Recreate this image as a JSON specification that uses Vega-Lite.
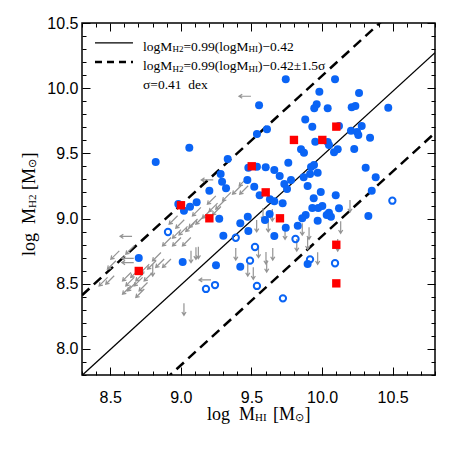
{
  "$schema": "https://vega.github.io/schema/vega-lite/v6.json",
  "width": 353,
  "height": 352,
  "autosize": {"type": "none"},
  "padding": {"left": 82, "top": 23, "right": 23, "bottom": 83},
  "background": "white",
  "config": {
    "view": {"stroke": "black", "strokeWidth": 1.5},
    "axis": {"domain": false, "grid": false, "tickColor": "black", "tickWidth": 1, "labelFont": "Liberation Sans", "labelFontSize": 16, "labelColor": "black", "labelFlush": false, "labelOverlap": false, "title": null},
    "text": {"font": "Liberation Serif", "color": "black"}
  },
  "datasets": {
    "one": [{}],
    "lines": [
      {"line": "fit", "x": 8.3, "y": 7.797}, {"line": "fit", "x": 10.8, "y": 10.272},
      {"line": "upper", "x": 8.3, "y": 8.412}, {"line": "upper", "x": 10.8, "y": 10.887},
      {"line": "lower", "x": 8.3, "y": 7.182}, {"line": "lower", "x": 10.8, "y": 9.657}
    ],
    "pts": [
      {"t":"filled","x":9.743,"y":10.068},{"t":"filled","x":10.092,"y":10.068},{"t":"filled","x":9.981,"y":9.973},{"t":"filled","x":10.262,"y":9.963},{"t":"filled","x":9.554,"y":9.869},{"t":"filled","x":9.962,"y":9.876},{"t":"filled","x":9.945,"y":9.846},{"t":"filled","x":10.040,"y":9.846},{"t":"filled","x":10.210,"y":9.853},{"t":"filled","x":10.236,"y":9.863},{"t":"filled","x":10.469,"y":9.850},{"t":"filled","x":9.881,"y":9.760},{"t":"filled","x":8.822,"y":9.434},{"t":"filled","x":9.060,"y":9.543},{"t":"filled","x":9.332,"y":9.457},{"t":"filled","x":9.282,"y":9.342},{"t":"filled","x":9.292,"y":9.283},{"t":"filled","x":9.320,"y":9.232},{"t":"filled","x":9.202,"y":9.214},{"t":"filled","x":9.478,"y":9.390},{"t":"filled","x":9.471,"y":9.296},{"t":"filled","x":9.520,"y":9.244},{"t":"filled","x":8.982,"y":9.112},{"t":"filled","x":9.022,"y":9.060},{"t":"filled","x":9.065,"y":9.091},{"t":"filled","x":9.112,"y":9.125},{"t":"filled","x":9.272,"y":8.999},{"t":"filled","x":9.421,"y":8.964},{"t":"filled","x":9.474,"y":9.014},{"t":"filled","x":9.478,"y":8.905},{"t":"filled","x":9.301,"y":8.868},{"t":"filled","x":9.539,"y":9.649},{"t":"filled","x":9.610,"y":9.685},{"t":"filled","x":9.931,"y":9.705},{"t":"filled","x":10.120,"y":9.710},{"t":"filled","x":10.281,"y":9.710},{"t":"filled","x":10.205,"y":9.674},{"t":"filled","x":10.248,"y":9.664},{"t":"filled","x":10.257,"y":9.641},{"t":"filled","x":9.952,"y":9.590},{"t":"filled","x":10.040,"y":9.587},{"t":"filled","x":10.049,"y":9.564},{"t":"filled","x":10.340,"y":9.620},{"t":"filled","x":9.851,"y":9.531},{"t":"filled","x":9.872,"y":9.505},{"t":"filled","x":10.085,"y":9.508},{"t":"filled","x":10.111,"y":9.531},{"t":"filled","x":10.228,"y":9.534},{"t":"filled","x":9.761,"y":9.428},{"t":"filled","x":9.539,"y":9.398},{"t":"filled","x":9.601,"y":9.393},{"t":"filled","x":9.662,"y":9.372},{"t":"filled","x":9.922,"y":9.395},{"t":"filled","x":9.943,"y":9.411},{"t":"filled","x":9.915,"y":9.342},{"t":"filled","x":9.969,"y":9.352},{"t":"filled","x":10.309,"y":9.390},{"t":"filled","x":9.700,"y":9.326},{"t":"filled","x":9.780,"y":9.296},{"t":"filled","x":9.870,"y":9.316},{"t":"filled","x":10.380,"y":9.316},{"t":"filled","x":9.733,"y":9.265},{"t":"filled","x":9.752,"y":9.227},{"t":"filled","x":9.898,"y":9.250},{"t":"filled","x":10.352,"y":9.214},{"t":"filled","x":9.991,"y":9.204},{"t":"filled","x":10.097,"y":9.178},{"t":"filled","x":9.558,"y":9.178},{"t":"filled","x":9.631,"y":9.148},{"t":"filled","x":9.662,"y":9.132},{"t":"filled","x":9.721,"y":9.117},{"t":"filled","x":9.941,"y":9.155},{"t":"filled","x":9.931,"y":9.081},{"t":"filled","x":9.973,"y":9.081},{"t":"filled","x":10.002,"y":9.096},{"t":"filled","x":10.049,"y":9.045},{"t":"filled","x":10.063,"y":9.014},{"t":"filled","x":10.033,"y":9.027},{"t":"filled","x":10.120,"y":9.079},{"t":"filled","x":9.884,"y":9.027},{"t":"filled","x":9.860,"y":9.002},{"t":"filled","x":9.969,"y":8.984},{"t":"filled","x":10.328,"y":9.020},{"t":"filled","x":9.629,"y":9.035},{"t":"filled","x":9.596,"y":8.989},{"t":"filled","x":9.743,"y":8.930},{"t":"filled","x":9.828,"y":8.945},{"t":"filled","x":9.662,"y":8.866},{"t":"filled","x":8.702,"y":8.697},{"t":"filled","x":9.013,"y":8.667},{"t":"filled","x":9.249,"y":8.641},{"t":"filled","x":9.421,"y":8.631},{"t":"filled","x":9.898,"y":8.651},
      {"t":"open","x":8.909,"y":8.897},{"t":"open","x":9.389,"y":8.853},{"t":"open","x":9.812,"y":8.843},{"t":"open","x":10.498,"y":9.137},{"t":"open","x":9.490,"y":8.677},{"t":"open","x":9.178,"y":8.460},{"t":"open","x":9.242,"y":8.490},{"t":"open","x":9.525,"y":8.782},{"t":"open","x":9.539,"y":8.483},{"t":"open","x":9.915,"y":8.687},{"t":"open","x":10.092,"y":8.657},{"t":"open","x":9.723,"y":8.388},
      {"t":"red","x":9.502,"y":9.401},{"t":"red","x":9.001,"y":9.102},{"t":"red","x":9.202,"y":9.002},{"t":"red","x":10.101,"y":9.705},{"t":"red","x":9.801,"y":9.603},{"t":"red","x":10.002,"y":9.603},{"t":"red","x":9.601,"y":9.201},{"t":"red","x":9.702,"y":9.002},{"t":"red","x":8.702,"y":8.598},{"t":"red","x":10.101,"y":8.799},{"t":"red","x":10.101,"y":8.503},
      {"t":"down","x":10.198,"y":9.096},{"t":"down","x":9.537,"y":8.943},{"t":"down","x":9.619,"y":8.943},{"t":"down","x":9.738,"y":8.887},{"t":"down","x":9.860,"y":8.918},{"t":"down","x":9.908,"y":8.887},{"t":"down","x":10.132,"y":8.933},{"t":"down","x":9.582,"y":9.035},{"t":"down","x":9.648,"y":9.027},{"t":"down","x":9.550,"y":8.746},{"t":"down","x":9.603,"y":8.697},{"t":"down","x":9.608,"y":8.636},{"t":"down","x":9.651,"y":8.728},{"t":"down","x":9.821,"y":8.797},{"t":"down","x":9.898,"y":8.810},{"t":"down","x":9.969,"y":8.695},{"t":"down","x":10.111,"y":8.797},{"t":"down","x":9.389,"y":8.728},{"t":"down","x":9.474,"y":8.605},{"t":"down","x":9.513,"y":8.580},{"t":"down","x":9.072,"y":8.707},{"t":"down","x":9.107,"y":8.733},{"t":"down","x":9.124,"y":8.738},{"t":"down","x":8.801,"y":8.605},{"t":"down","x":9.022,"y":8.304},
      {"t":"left","x":9.454,"y":9.938},{"t":"left","x":9.187,"y":9.296},{"t":"left","x":8.612,"y":8.864},{"t":"left","x":9.171,"y":8.529},{"t":"left","x":8.624,"y":8.695},{"t":"left","x":8.624,"y":8.662},
      {"t":"diag","x":9.443,"y":9.283},{"t":"diag","x":9.396,"y":9.219},{"t":"diag","x":9.447,"y":9.219},{"t":"diag","x":9.325,"y":9.168},{"t":"diag","x":9.218,"y":9.142},{"t":"diag","x":9.277,"y":9.104},{"t":"diag","x":9.230,"y":9.086},{"t":"diag","x":9.254,"y":9.060},{"t":"diag","x":9.112,"y":9.053},{"t":"diag","x":9.183,"y":9.035},{"t":"diag","x":9.136,"y":8.989},{"t":"diag","x":9.088,"y":8.964},{"t":"diag","x":9.065,"y":8.933},{"t":"diag","x":8.994,"y":8.958},{"t":"diag","x":9.017,"y":8.907},{"t":"diag","x":8.971,"y":8.882},{"t":"diag","x":8.947,"y":8.989},{"t":"diag","x":8.900,"y":8.822},{"t":"diag","x":8.971,"y":8.822},{"t":"diag","x":9.041,"y":8.822},{"t":"diag","x":8.534,"y":8.720},{"t":"diag","x":8.640,"y":8.759},{"t":"diag","x":8.510,"y":8.644},{"t":"diag","x":8.829,"y":8.707},{"t":"diag","x":8.852,"y":8.657},{"t":"diag","x":8.900,"y":8.657},{"t":"diag","x":8.794,"y":8.644},{"t":"diag","x":8.746,"y":8.618},{"t":"diag","x":8.675,"y":8.580},{"t":"diag","x":8.617,"y":8.554},{"t":"diag","x":8.711,"y":8.554},{"t":"diag","x":8.770,"y":8.554},{"t":"diag","x":8.451,"y":8.516},{"t":"diag","x":8.498,"y":8.529},{"t":"diag","x":8.640,"y":8.516},{"t":"diag","x":8.699,"y":8.516},{"t":"diag","x":8.617,"y":8.452},{"t":"diag","x":8.652,"y":8.477},{"t":"diag","x":8.734,"y":8.477},{"t":"diag","x":8.711,"y":8.427}
    ]
  },
  "resolve": {"axis": {"x": "independent", "y": "independent"}},
  "layer": [
    {
      "data": {"name": "lines"},
      "transform": [{"filter": "datum.line === 'fit'"}],
      "mark": {"type": "line", "color": "black", "strokeWidth": 1.3, "clip": true},
      "encoding": {
        "x": {"field": "x", "type": "quantitative", "scale": {"domain": [8.3, 10.8], "nice": false, "zero": false},
          "axis": {"orient": "bottom", "values": [8.3,8.4,8.5,8.6,8.7,8.8,8.9,9.0,9.1,9.2,9.3,9.4,9.5,9.6,9.7,9.8,9.9,10.0,10.1,10.2,10.3,10.4,10.5,10.6,10.7,10.8],
            "labelExpr": "abs(datum.value*2 - round(datum.value*2)) < 1e-6 ? format(datum.value, '.1f') : ''",
            "tickSize": {"condition": {"test": "abs(datum.value*2 - round(datum.value*2)) < 1e-6", "value": -8}, "value": -4},
            "labelPadding": 22}},
        "y": {"field": "y", "type": "quantitative", "scale": {"domain": [7.8, 10.5], "nice": false, "zero": false},
          "axis": {"orient": "left", "values": [7.8,7.9,8.0,8.1,8.2,8.3,8.4,8.5,8.6,8.7,8.8,8.9,9.0,9.1,9.2,9.3,9.4,9.5,9.6,9.7,9.8,9.9,10.0,10.1,10.2,10.3,10.4,10.5],
            "labelExpr": "abs(datum.value*2 - round(datum.value*2)) < 1e-6 ? format(datum.value, '.1f') : ''",
            "tickSize": {"condition": {"test": "abs(datum.value*2 - round(datum.value*2)) < 1e-6", "value": -8}, "value": -4},
            "labelPadding": 12}}
      }
    },
    {
      "data": {"name": "lines"},
      "transform": [{"filter": "datum.line !== 'fit'"}],
      "mark": {"type": "line", "color": "black", "strokeWidth": 2.5, "strokeDash": [10, 6], "clip": true},
      "encoding": {
        "detail": {"field": "line"},
        "x": {"field": "x", "type": "quantitative", "scale": {"domain": [8.3, 10.8], "nice": false, "zero": false},
          "axis": {"orient": "top", "labels": false, "values": [8.3,8.4,8.5,8.6,8.7,8.8,8.9,9.0,9.1,9.2,9.3,9.4,9.5,9.6,9.7,9.8,9.9,10.0,10.1,10.2,10.3,10.4,10.5,10.6,10.7,10.8],
            "tickSize": {"condition": {"test": "abs(datum.value*2 - round(datum.value*2)) < 1e-6", "value": -8}, "value": -4}}},
        "y": {"field": "y", "type": "quantitative", "scale": {"domain": [7.8, 10.5], "nice": false, "zero": false},
          "axis": {"orient": "right", "labels": false, "values": [7.8,7.9,8.0,8.1,8.2,8.3,8.4,8.5,8.6,8.7,8.8,8.9,9.0,9.1,9.2,9.3,9.4,9.5,9.6,9.7,9.8,9.9,10.0,10.1,10.2,10.3,10.4,10.5],
            "tickSize": {"condition": {"test": "abs(datum.value*2 - round(datum.value*2)) < 1e-6", "value": -8}, "value": -4}}}
      }
    },
    {
      "data": {"name": "pts"},
      "transform": [{"filter": "datum.t === 'down'"}],
      "mark": {"type": "point", "shape": "M0,-1L0,1M-0.35,0.45L0,1L0.35,0.45", "filled": false, "stroke": "#949494", "strokeWidth": 1.2, "size": 144, "opacity": 1, "angle": 0},
      "encoding": {
        "x": {"field": "x", "type": "quantitative", "axis": null},
        "y": {"field": "y", "type": "quantitative", "axis": null}
      }
    },
    {
      "data": {"name": "pts"},
      "transform": [{"filter": "datum.t === 'left'"}],
      "mark": {"type": "point", "shape": "M0,-1L0,1M-0.35,0.45L0,1L0.35,0.45", "filled": false, "stroke": "#949494", "strokeWidth": 1.2, "size": 144, "opacity": 1, "angle": 90},
      "encoding": {
        "x": {"field": "x", "type": "quantitative", "axis": null},
        "y": {"field": "y", "type": "quantitative", "axis": null}
      }
    },
    {
      "data": {"name": "pts"},
      "transform": [{"filter": "datum.t === 'diag'"}],
      "mark": {"type": "point", "shape": "M0,-1L0,1M-0.35,0.45L0,1L0.35,0.45", "filled": false, "stroke": "#949494", "strokeWidth": 1.2, "size": 144, "opacity": 1, "angle": 45},
      "encoding": {
        "x": {"field": "x", "type": "quantitative", "axis": null},
        "y": {"field": "y", "type": "quantitative", "axis": null}
      }
    },
    {
      "data": {"name": "pts"},
      "transform": [{"filter": "datum.t === 'filled'"}],
      "mark": {"type": "circle", "color": "#0a64f5", "size": 64, "opacity": 1},
      "encoding": {
        "x": {"field": "x", "type": "quantitative", "axis": null},
        "y": {"field": "y", "type": "quantitative", "axis": null}
      }
    },
    {
      "data": {"name": "pts"},
      "transform": [{"filter": "datum.t === 'open'"}],
      "mark": {"type": "point", "shape": "circle", "filled": false, "stroke": "#0a64f5", "strokeWidth": 2, "size": 40, "opacity": 1},
      "encoding": {
        "x": {"field": "x", "type": "quantitative", "axis": null},
        "y": {"field": "y", "type": "quantitative", "axis": null}
      }
    },
    {
      "data": {"name": "pts"},
      "transform": [{"filter": "datum.t === 'red'"}],
      "mark": {"type": "square", "color": "#ff0000", "size": 70, "opacity": 1},
      "encoding": {
        "x": {"field": "x", "type": "quantitative", "axis": null},
        "y": {"field": "y", "type": "quantitative", "axis": null}
      }
    },
    {
      "data": {"name": "one"},
      "mark": {"type": "rule", "color": "black", "strokeWidth": 1.3},
      "encoding": {"x": {"datum": 8.392, "type": "quantitative", "axis": null}, "x2": {"datum": 8.661}, "y": {"datum": 10.347, "type": "quantitative", "axis": null}}
    },
    {
      "data": {"name": "one"},
      "mark": {"type": "rule", "color": "black", "strokeWidth": 2.5, "strokeDash": [7, 5]},
      "encoding": {"x": {"datum": 8.392, "type": "quantitative", "axis": null}, "x2": {"datum": 8.661}, "y": {"datum": 10.201, "type": "quantitative", "axis": null}}
    },
    {"data": {"name": "one"}, "mark": {"type": "text", "text": "logM", "align": "left", "fontSize": 13.5}, "encoding": {"x": {"datum": 8.732, "type": "quantitative", "axis": null}, "y": {"datum": 10.316, "type": "quantitative", "axis": null}}},
    {"data": {"name": "one"}, "mark": {"type": "text", "text": "H2", "align": "left", "fontSize": 9, "dx": 29.5, "dy": 2.5}, "encoding": {"x": {"datum": 8.732, "type": "quantitative", "axis": null}, "y": {"datum": 10.316, "type": "quantitative", "axis": null}}},
    {"data": {"name": "one"}, "mark": {"type": "text", "text": "=0.99(logM", "align": "left", "fontSize": 13.5, "dx": 40.5}, "encoding": {"x": {"datum": 8.732, "type": "quantitative", "axis": null}, "y": {"datum": 10.316, "type": "quantitative", "axis": null}}},
    {"data": {"name": "one"}, "mark": {"type": "text", "text": "HI", "align": "left", "fontSize": 9, "dx": 105.5, "dy": 2.5}, "encoding": {"x": {"datum": 8.732, "type": "quantitative", "axis": null}, "y": {"datum": 10.316, "type": "quantitative", "axis": null}}},
    {"data": {"name": "one"}, "mark": {"type": "text", "text": ")−0.42", "align": "left", "fontSize": 13.5, "dx": 115}, "encoding": {"x": {"datum": 8.732, "type": "quantitative", "axis": null}, "y": {"datum": 10.316, "type": "quantitative", "axis": null}}},
    {"data": {"name": "one"}, "mark": {"type": "text", "text": "logM", "align": "left", "fontSize": 13.5}, "encoding": {"x": {"datum": 8.732, "type": "quantitative", "axis": null}, "y": {"datum": 10.170, "type": "quantitative", "axis": null}}},
    {"data": {"name": "one"}, "mark": {"type": "text", "text": "H2", "align": "left", "fontSize": 9, "dx": 29.5, "dy": 2.5}, "encoding": {"x": {"datum": 8.732, "type": "quantitative", "axis": null}, "y": {"datum": 10.170, "type": "quantitative", "axis": null}}},
    {"data": {"name": "one"}, "mark": {"type": "text", "text": "=0.99(logM", "align": "left", "fontSize": 13.5, "dx": 40.5}, "encoding": {"x": {"datum": 8.732, "type": "quantitative", "axis": null}, "y": {"datum": 10.170, "type": "quantitative", "axis": null}}},
    {"data": {"name": "one"}, "mark": {"type": "text", "text": "HI", "align": "left", "fontSize": 9, "dx": 105.5, "dy": 2.5}, "encoding": {"x": {"datum": 8.732, "type": "quantitative", "axis": null}, "y": {"datum": 10.170, "type": "quantitative", "axis": null}}},
    {"data": {"name": "one"}, "mark": {"type": "text", "text": ")−0.42±1.5σ", "align": "left", "fontSize": 13.5, "dx": 115}, "encoding": {"x": {"datum": 8.732, "type": "quantitative", "axis": null}, "y": {"datum": 10.170, "type": "quantitative", "axis": null}}},
    {"data": {"name": "one"}, "mark": {"type": "text", "text": "σ=0.41\u00a0\u00a0dex", "align": "left", "fontSize": 13.5}, "encoding": {"x": {"datum": 8.732, "type": "quantitative", "axis": null}, "y": {"datum": 10.024, "type": "quantitative", "axis": null}}},
    {"data": {"name": "one"}, "mark": {"type": "text", "text": "log\u00a0\u00a0M", "align": "left", "fontSize": 18}, "encoding": {"x": {"datum": 9.185, "type": "quantitative", "axis": null}, "y": {"datum": 7.495, "type": "quantitative", "axis": null}}},
    {"data": {"name": "one"}, "mark": {"type": "text", "text": "HI", "align": "left", "fontSize": 11, "dx": 48, "dy": 3}, "encoding": {"x": {"datum": 9.185, "type": "quantitative", "axis": null}, "y": {"datum": 7.495, "type": "quantitative", "axis": null}}},
    {"data": {"name": "one"}, "mark": {"type": "text", "text": "[M", "align": "left", "fontSize": 18, "dx": 66}, "encoding": {"x": {"datum": 9.185, "type": "quantitative", "axis": null}, "y": {"datum": 7.495, "type": "quantitative", "axis": null}}},
    {"data": {"name": "one"}, "mark": {"type": "text", "text": "⊙", "align": "left", "fontSize": 11, "dx": 88, "dy": 3}, "encoding": {"x": {"datum": 9.185, "type": "quantitative", "axis": null}, "y": {"datum": 7.495, "type": "quantitative", "axis": null}}},
    {"data": {"name": "one"}, "mark": {"type": "text", "text": "]", "align": "left", "fontSize": 18, "dx": 97.5}, "encoding": {"x": {"datum": 9.185, "type": "quantitative", "axis": null}, "y": {"datum": 7.495, "type": "quantitative", "axis": null}}},
    {"data": {"name": "one"}, "mark": {"type": "text", "text": "log\u00a0\u00a0M", "align": "left", "fontSize": 18, "angle": 270}, "encoding": {"x": {"datum": 7.93, "type": "quantitative", "axis": null}, "y": {"datum": 8.713, "type": "quantitative", "axis": null}}},
    {"data": {"name": "one"}, "mark": {"type": "text", "text": "H2", "align": "left", "fontSize": 11, "angle": 270, "dx": 48, "dy": 3}, "encoding": {"x": {"datum": 7.93, "type": "quantitative", "axis": null}, "y": {"datum": 8.713, "type": "quantitative", "axis": null}}},
    {"data": {"name": "one"}, "mark": {"type": "text", "text": "[M", "align": "left", "fontSize": 18, "angle": 270, "dx": 66}, "encoding": {"x": {"datum": 7.93, "type": "quantitative", "axis": null}, "y": {"datum": 8.713, "type": "quantitative", "axis": null}}},
    {"data": {"name": "one"}, "mark": {"type": "text", "text": "⊙", "align": "left", "fontSize": 11, "angle": 270, "dx": 88, "dy": 3}, "encoding": {"x": {"datum": 7.93, "type": "quantitative", "axis": null}, "y": {"datum": 8.713, "type": "quantitative", "axis": null}}},
    {"data": {"name": "one"}, "mark": {"type": "text", "text": "]", "align": "left", "fontSize": 18, "angle": 270, "dx": 97.5}, "encoding": {"x": {"datum": 7.93, "type": "quantitative", "axis": null}, "y": {"datum": 8.713, "type": "quantitative", "axis": null}}}
  ]
}
